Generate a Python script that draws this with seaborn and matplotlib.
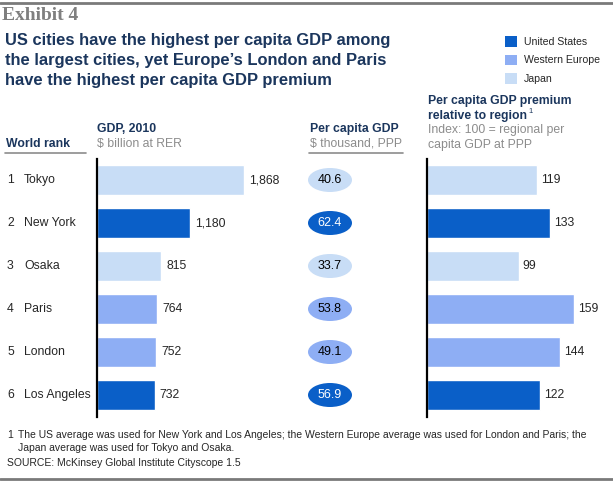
import matplotlib
matplotlib.use("Agg")
import numpy as np
import pandas as pd
import matplotlib.pyplot as plt
import seaborn as sns
from matplotlib.patches import Ellipse, Patch
from matplotlib.lines import Line2D

ranks = [1, 2, 3, 4, 5, 6]
cities = ["Tokyo", "New York", "Osaka", "Paris", "London", "Los Angeles"]
regions = ["Japan", "United States", "Japan", "Western Europe", "Western Europe", "United States"]
gdp = [1868, 1180, 815, 764, 752, 732]
gdp_per_capita = [40.6, 62.4, 33.7, 53.8, 49.1, 56.9]
premium = [119, 133, 99, 159, 144, 122]
legend_order = ["United States", "Western Europe", "Japan"]

palette = {"United States": "#0a5fc8", "Western Europe": "#8eaef4", "Japan": "#c8ddf6"}
NAVY = "#1b365d"
GRAY = "#8c8c8c"
FS = 8.8

df = pd.DataFrame({"rank": ranks, "city": cities, "region": regions,
                   "gdp": gdp, "pc": gdp_per_capita, "premium": premium})

W, H = 613, 486
sns.set_style("white")
plt.rcParams['font.family'] = ['Liberation Sans', 'DejaVu Sans']

fig = plt.figure(figsize=(W / 100, H / 100), dpi=100)


def fx(x):
    return x / W


def fy(y):
    return 1 - y / H


def add_ax(x0, y0, x1, y1):
    return fig.add_axes([x0 / W, 1 - y1 / H, (x1 - x0) / W, (y1 - y0) / H])


def hline(x0, x1, y, color, lw):
    fig.add_artist(Line2D([fx(x0), fx(x1)], [fy(y), fy(y)], color=color, lw=lw,
                          transform=fig.transFigure))


ROW_TOP, ROW_BOT, ROW_H = 158.5, 416.5, 43


def bar_panel(ax, col, xmax):
    sns.barplot(data=df, x=col, y="city", hue="region", palette=palette, order=cities,
                dodge=False, width=0.72, saturation=1, legend=False, ax=ax)
    ax.set_xlim(0, xmax)
    ax.set_ylim(5.5, -0.5)
    ax.set_xticks([])
    ax.set_yticks([])
    ax.set_xlabel("")
    ax.set_ylabel("")
    sns.despine(ax=ax, top=True, right=True, bottom=True)
    ax.spines["left"].set_color("black")
    ax.spines["left"].set_linewidth(1.6)
    ax.patch.set_alpha(0)


# GDP bars
ax1 = add_ax(97, ROW_TOP, 97 + 157.4, ROW_BOT)
bar_panel(ax1, "gdp", 2000)
for i, v in enumerate(gdp):
    ax1.annotate(f"{v:,}", (v, i), xytext=(3.5, 0), textcoords="offset points",
                 va="center", ha="left", fontsize=FS)

# per capita ellipses
ax2 = add_ax(300, ROW_TOP, 360, ROW_BOT)
ax2.set_xlim(0, 60)
ax2.set_ylim(5.5, -0.5)
ax2.axis("off")
for i, (v, r) in enumerate(zip(gdp_per_capita, regions)):
    ax2.add_patch(Ellipse((30, i), 44, 24 / ROW_H, color=palette[r], lw=0))
    ax2.text(30, i, f"{v:.1f}", ha="center", va="center", fontsize=9,
             color="white" if r == "United States" else "black")

# premium bars
ax3 = add_ax(427, ROW_TOP, 427 + 166.5, ROW_BOT)
bar_panel(ax3, "premium", 180)
for i, v in enumerate(premium):
    ax3.annotate(f"{v}", (v, i), xytext=(3, 0), textcoords="offset points",
                 va="center", ha="left", fontsize=FS)

# row labels
for i, (rk, c) in enumerate(zip(ranks, cities)):
    y = ROW_TOP + ROW_H / 2 + ROW_H * i
    fig.text(fx(7), fy(y), str(rk), va="center", fontsize=FS)
    fig.text(fx(24), fy(y), c, va="center", fontsize=FS)

# header block
hline(0, W, 3, "#7a7a7a", 2)
hline(0, W, 479, "#7a7a7a", 2)
fig.text(fx(2), fy(16), "Exhibit 4", family=["Liberation Serif", "DejaVu Serif"],
         fontweight="bold", fontsize=14, color="#7f7f7f", va="center")
title = ["US cities have the highest per capita GDP among",
         "the largest cities, yet Europe\u2019s London and Paris",
         "have the highest per capita GDP premium"]
for k, line in enumerate(title):
    fig.text(fx(5), fy(41 + 20 * k), line, fontsize=11.9, fontweight="bold",
             color=NAVY, va="center")

handles = [Patch(facecolor=palette[r], edgecolor="none") for r in legend_order]
fig.legend(handles, legend_order, loc="upper left", bbox_to_anchor=(fx(501), fy(32)),
           frameon=False, fontsize=7.6, handlelength=1.15, handleheight=1.15,
           handletextpad=0.6, labelspacing=0.72, borderaxespad=0)

# column headers
fig.text(fx(6), fy(144), "World rank", fontsize=FS, fontweight="bold", color=NAVY, va="center")
hline(5, 86, 153, GRAY, 1.2)
fig.text(fx(97), fy(129), "GDP, 2010", fontsize=FS, fontweight="bold", color=NAVY, va="center")
fig.text(fx(97), fy(144), "$ billion at RER", fontsize=FS, color=GRAY, va="center")
fig.text(fx(310), fy(129), "Per capita GDP", fontsize=FS, fontweight="bold", color=NAVY, va="center")
fig.text(fx(310), fy(144), "$ thousand, PPP", fontsize=FS, color=GRAY, va="center")
hline(309, 403, 153, GRAY, 1.2)
fig.text(fx(428), fy(101), "Per capita GDP premium", fontsize=FS, fontweight="bold",
         color=NAVY, va="center")
rel = fig.text(fx(428), fy(115.5), "relative to region", fontsize=FS, fontweight="bold",
               color=NAVY, va="center")
fig.text(fx(428), fy(130), "Index: 100 = regional per", fontsize=FS, color=GRAY, va="center")
fig.text(fx(428), fy(144.5), "capita GDP at PPP", fontsize=FS, color=GRAY, va="center")
fig.canvas.draw()
bb = rel.get_window_extent()
fig.text(bb.x1 / W + 1 / W, fy(111.5), "1", fontsize=5.5, color=NAVY, va="center")

# footnotes
FN = 7.5
fig.text(fx(7), fy(434.5), "1", fontsize=FN, va="center")
fig.text(fx(18), fy(434.5), "The US average was used for New York and Los Angeles; the Western Europe "
         "average was used for London and Paris; the", fontsize=FN, va="center")
fig.text(fx(18), fy(447.5), "Japan average was used for Tokyo and Osaka.", fontsize=FN, va="center")
fig.text(fx(7), fy(462.5), "SOURCE: McKinsey Global Institute Cityscope 1.5", fontsize=FN, va="center")

fig.savefig("out.png", dpi=100)
